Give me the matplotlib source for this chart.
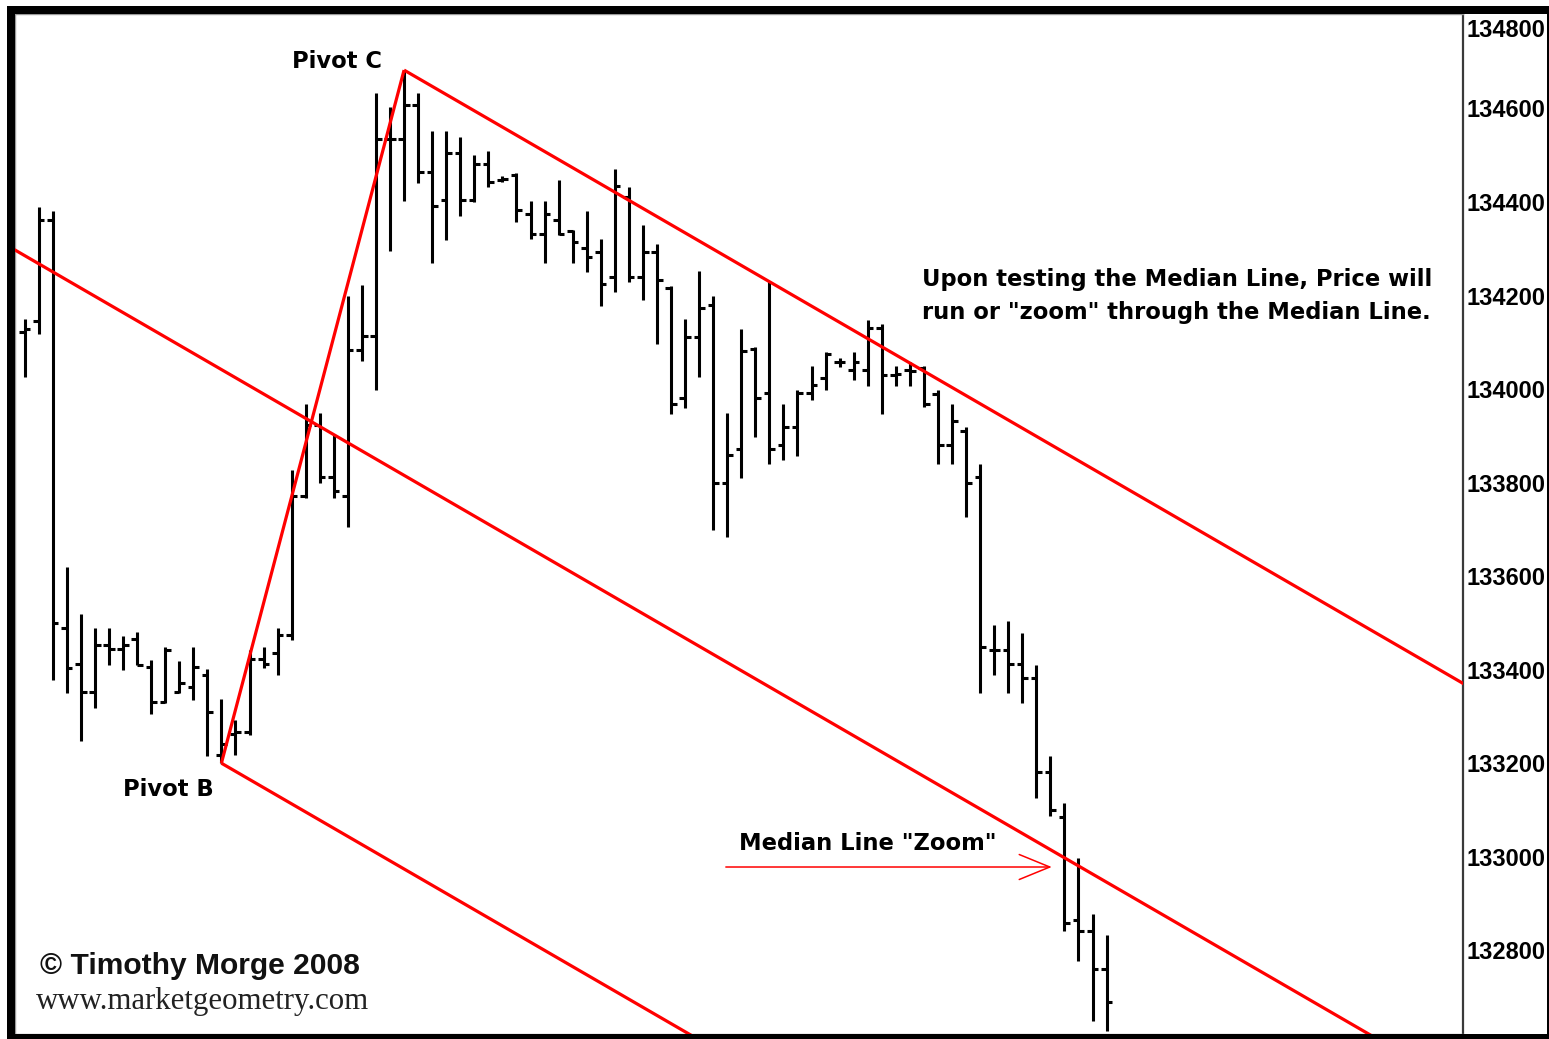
import matplotlib
matplotlib.use("Agg")
import matplotlib.pyplot as plt
from matplotlib.patches import Rectangle
from matplotlib.transforms import ScaledTranslation

# ---------------- data ----------------
opens = [134121, 134145, 134361, 133490, 133413, 133352, 133453, 133445, 133465, 133405,
         133330, 133352, 133362, 133389, 133218, 133262, 133267, 133423, 133435, 133474,
         133771, 133923, 133812, 133771, 134084, 134114, 134535, 134535, 134607, 134465,
         134404, 134504, 134404, 134481, 134448, 134457, 134374, 134331, 134361, 134338,
         134301, 134293, 134240, 134411, 134240, 134293, 134217, 133980, 134112, 134180,
         133800, 133872, 134086, 133991, 133880, 133919, 133991, 134023, 134058, 134041,
         134041, 134130, 134030, 134041, 134044, 133989, 133880, 133910, 133812, 133443,
         133443, 133412, 133382, 133181, 133085, 132864, 132842, 132760]
highs = [134149, 134390, 134380, 133619, 133520, 133488, 133488, 133472, 133480, 133421,
         133449, 133419, 133449, 133401, 133338, 133292, 133441, 133449, 133489, 133827,
         133968, 133948, 133903, 134200, 134222, 134634, 134604, 134682, 134633, 134552,
         134552, 134539, 134500, 134509, 134455, 134461, 134402, 134402, 134448, 134341,
         134381, 134320, 134470, 134432, 134351, 134311, 134220, 134149, 134252, 134199,
         133948, 134128, 134089, 134231, 133969, 133999, 134050, 134080, 134066, 134080,
         134148, 134139, 134049, 134058, 134050, 133998, 133968, 133918, 133840, 133496,
         133505, 133478, 133410, 133216, 133114, 132998, 132878, 132832]
lows = [134026, 134117, 133378, 133350, 133247, 133318, 133409, 133400, 133411, 133306,
        133328, 133350, 133336, 133215, 133200, 133217, 133260, 133403, 133388, 133463,
        133768, 133799, 133766, 133706, 134059, 133998, 134296, 134402, 134440, 134269,
        134319, 134370, 134400, 134431, 134443, 134358, 134320, 134269, 134329, 134269,
        134251, 134177, 134207, 134228, 134190, 134096, 133946, 133959, 134026, 133699,
        133684, 133809, 133898, 133839, 133848, 133857, 133976, 133998, 134048, 134019,
        134006, 133946, 134006, 134006, 133961, 133839, 133839, 133727, 133350, 133388,
        133350, 133328, 133126, 133088, 132842, 132778, 132649, 132627]
closes = [134129, 134361, 133500, 133404, 133352, 133453, 133445, 133453, 133411, 133330,
          133442, 133371, 133405, 133310, 133242, 133267, 133423, 133413, 133474, 133771,
          133923, 133812, 133782, 134084, 134114, 134535, 134535, 134607, 134465, 134391,
          134504, 134404, 134481, 134443, 134450, 134383, 134331, 134374, 134331, 134314,
          134283, 134224, 134434, 134240, 134293, 134233, 133969, 134112, 134173, 133800,
          133860, 134081, 133980, 133872, 133919, 133991, 134009, 134076, 134057, 134057,
          134130, 134030, 134032, 134039, 133967, 133880, 133932, 133800, 133449, 133443,
          133412, 133382, 133181, 133099, 132858, 132842, 132760, 132690]

# Andrews pitchfork: virtual pivot A (left edge), pivots B and C, common slope
pivot_a = (-0.73, 134298)
pivot_b = (14, 133200)
pivot_c = (27, 134682)
fork_slope = -17.4          # price per bar
fork_end = 115              # bar index the lines run to (clipped by axes)

# arrow "Median Line Zoom"
arrow_start = (49.9, 132978)
arrow_end = (73.1, 132978)

y_ticks = [132800, 133000, 133200, 133400, 133600, 133800, 134000, 134200, 134400, 134600, 134800]
y_tick_labels = [str(v) for v in y_ticks]

# ---------------- figure ----------------
W, H = 1549, 1039
DPI = 100
fig = plt.figure(figsize=(W / DPI, H / DPI), dpi=DPI, facecolor="white")

def fx(px):
    return px / W

def fy(py):
    return 1 - py / H

ax_l, ax_r, ax_t, ax_b = 14.5, 1462.5, 13.5, 1033.5
ax = fig.add_axes([fx(ax_l), fy(ax_b), fx(ax_r) - fx(ax_l), fy(ax_t) - fy(ax_b)])
ax.set_facecolor("white")
ax.set_xlim(-0.726, 102.33)
ax.set_ylim(132622, 134803)

# OHLC bars
idx = list(range(len(opens)))
lw_bar = 2.2
tick_len = 0.40
ax.vlines(idx, lows, highs, colors="black", linewidth=lw_bar, zorder=3)
ax.hlines(opens, [i - tick_len for i in idx], idx, colors="black", linewidth=lw_bar, zorder=3)
ax.hlines(closes, idx, [i + tick_len for i in idx], colors="black", linewidth=lw_bar, zorder=3)

# pitchfork lines
red = "#ff0000"
lw_red = 2.3

def line_from(p, x_end):
    return [p[0], x_end], [p[1], p[1] + fork_slope * (x_end - p[0])]

xs, ys = line_from(pivot_a, fork_end)
ax.plot(xs, ys, color=red, lw=lw_red, zorder=4, solid_capstyle="butt")
xs, ys = line_from(pivot_b, fork_end)
ax.plot(xs, ys, color=red, lw=lw_red, zorder=4, solid_capstyle="butt")
xs, ys = line_from(pivot_c, fork_end)
ax.plot(xs, ys, color=red, lw=lw_red, zorder=4, solid_capstyle="butt")
ax.plot([pivot_b[0], pivot_c[0]], [pivot_b[1], pivot_c[1]], color=red, lw=lw_red, zorder=4,
        solid_capstyle="butt")

# arrow
ax.annotate("", xy=arrow_end, xytext=arrow_start,
            arrowprops=dict(arrowstyle="->,head_length=1.1,head_width=0.45", color=red, lw=1.1,
                            mutation_scale=20, shrinkA=0, shrinkB=0), zorder=5)

# axes styling
for side in ("left", "top", "bottom"):
    ax.spines[side].set_color("#9a9a9a")
    ax.spines[side].set_linewidth(1.0)
ax.spines["right"].set_color("#3a3a3a")
ax.spines["right"].set_linewidth(1.6)
ax.set_xticks([])
ax.yaxis.tick_right()
ax.set_yticks(y_ticks)
ax.set_yticklabels(y_tick_labels)
ax.tick_params(axis="y", length=0, pad=3)
for lab in ax.get_yticklabels():
    lab.set_fontfamily("Liberation Sans")
    lab.set_fontweight("bold")
    lab.set_fontsize(17)
    lab.set_color("black")
# top label is clamped inside the panel in the original
top_lab = ax.get_yticklabels()[-1]
top_lab.set_transform(top_lab.get_transform() + ScaledTranslation(0, -13.5 / DPI, fig.dpi_scale_trans))

# outer black frame
black = "black"
fig.add_artist(Rectangle((fx(7), fy(13.5)), fx(W) - fx(7), fy(6) - fy(13.5), transform=fig.transFigure,
                         facecolor=black, edgecolor="none"))
fig.add_artist(Rectangle((fx(7), fy(H)), fx(14.5) - fx(7), fy(6) - fy(H), transform=fig.transFigure,
                         facecolor=black, edgecolor="none"))
fig.add_artist(Rectangle((fx(7), fy(H)), fx(W) - fx(7), fy(1034) - fy(H), transform=fig.transFigure,
                         facecolor=black, edgecolor="none"))
fig.add_artist(Rectangle((fx(1546.5), fy(H)), fx(W) - fx(1546.5), fy(6) - fy(H), transform=fig.transFigure,
                         facecolor=black, edgecolor="none"))

# annotation texts
bold_font = ["DejaVu Sans"]
fs_note = 16.3
fig.text(fx(292), fy(62), "Pivot C", fontsize=fs_note, fontweight="bold", family=bold_font,
         ha="left", va="center")
fig.text(fx(123), fy(789), "Pivot B", fontsize=fs_note, fontweight="bold", family=bold_font,
         ha="left", va="center")
fig.text(fx(922), fy(296),
         "Upon testing the Median Line, Price will\nrun or \"zoom\" through the Median Line.",
         fontsize=fs_note, fontweight="bold", family=bold_font, ha="left", va="center",
         linespacing=1.55)
fig.text(fx(739), fy(843), "Median Line \"Zoom\"", fontsize=fs_note, fontweight="bold",
         family=bold_font, ha="left", va="center")
fig.text(fx(40), fy(966), "\u00a9 Timothy Morge 2008", fontsize=21.6, fontweight="bold",
         family=["Liberation Sans", "DejaVu Sans"], ha="left", va="center", color="#111111")
fig.text(fx(36), fy(1001), "www.marketgeometry.com", fontsize=22.2,
         family=["Liberation Serif", "DejaVu Serif"], ha="left", va="center", color="#222222")

fig.savefig("out.png", dpi=DPI, facecolor="white")
